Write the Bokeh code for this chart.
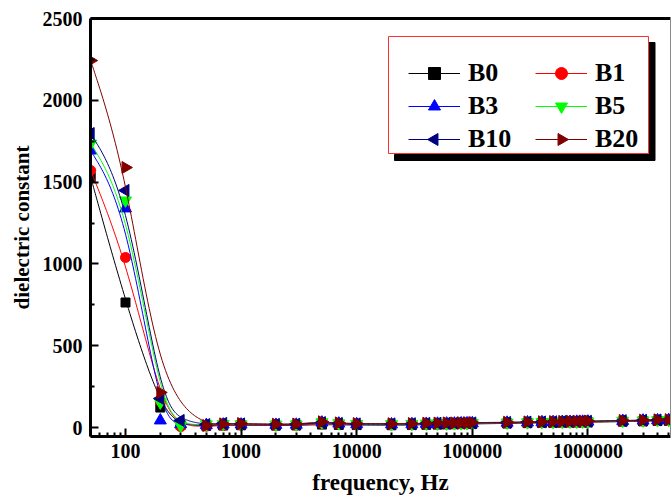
import numpy as np
from bokeh.plotting import figure
from bokeh.models import (Range1d, FixedTicker, PrintfTickFormatter, LinearAxis,
                          Legend, LegendItem)
from bokeh.embed import file_html
from bokeh.resources import INLINE

# ---------------- data ----------------
freq = [50, 100, 200, 300, 500, 700, 1000, 2000, 3000, 5000, 7000, 10000,
        20000, 30000, 40000, 50000, 60000, 70000, 80000, 90000, 100000,
        200000, 300000, 400000, 500000, 600000, 700000, 800000, 900000,
        1000000, 2000000, 3000000, 4000000, 5000000]
freq_b20 = [50, 100, 200, 500, 700, 1000, 2000, 3000, 5000, 7000, 10000,
            20000, 30000, 40000, 50000, 60000, 70000, 80000, 90000, 100000,
            200000, 300000, 400000, 500000, 600000, 700000, 800000, 900000,
            1000000, 2000000, 3000000, 4000000, 5000000]

b0 = [1530, 764, 122, 15, 10, 12, 14, 12, 13, 18, 16, 15, 14, 15, 17, 18, 19,
      20, 21, 21, 22, 25, 27, 28, 29, 30, 31, 31, 32, 32, 36, 38, 40, 41]
b1 = [1571, 1039, 160, 5, 8, 12, 14, 13, 14, 25, 20, 18, 17, 18, 20, 21, 22,
      23, 23, 24, 24, 27, 29, 30, 31, 32, 33, 33, 34, 34, 38, 40, 42, 43]
b3 = [1693, 1339, 43, 20, 15, 18, 18, 16, 17, 30, 24, 20, 19, 20, 22, 23, 24,
      24, 25, 25, 26, 29, 31, 32, 33, 34, 34, 35, 35, 36, 40, 42, 44, 45]
b5 = [1736, 1388, 153, 12, 20, 22, 20, 18, 19, 32, 26, 22, 21, 22, 24, 25, 25,
      26, 26, 27, 27, 30, 32, 33, 34, 35, 36, 36, 37, 37, 41, 43, 45, 46]
b10 = [1797, 1449, 177, 43, 18, 25, 22, 19, 20, 30, 25, 22, 22, 23, 25, 26, 26,
       27, 27, 28, 28, 31, 33, 34, 35, 36, 36, 37, 37, 38, 42, 44, 46, 47]
b20 = [2243, 1589, 214, 12, 22, 24, 20, 21, 35, 28, 24, 23, 24, 26, 27, 28,
       28, 29, 29, 30, 32, 34, 35, 36, 37, 38, 38, 39, 39, 43, 45, 47, 48]

names = ["B0", "B1", "B3", "B5", "B10", "B20"]
x_ticks = [100, 1000, 10000, 100000, 1000000]
y_ticks = [0, 500, 1000, 1500, 2000, 2500]
y_minor = [250, 750, 1250, 1750, 2250]

# ---------------- styles ----------------
styles = {
    "B0": ("#000000", "square", 0.0, 9),
    "B1": ("#ff0000", "circle", 0.0, 10),
    "B3": ("#0000ff", "triangle", 0.0, 12),
    "B5": ("#00ff00", "inverted_triangle", 0.0, 12),
    "B10": ("#000080", "triangle", np.pi / 2, 12),
    "B20": ("#800000", "triangle", -np.pi / 2, 12),
}
series = {"B0": (freq, b0), "B1": (freq, b1), "B3": (freq, b3),
          "B5": (freq, b5), "B10": (freq, b10), "B20": (freq_b20, b20)}

X_START, X_END = 49.8, 5.18e6
Y_START, Y_END = -55, 2500
FR_L, FR_R, FR_T, FR_B = 90, 670, 18, 436   # frame in pixels


def px_x(px):
    a, b = np.log10(X_START), np.log10(X_END)
    return float(10 ** (a + (px - FR_L) / (FR_R - FR_L) * (b - a)))


def px_y(py):
    return float(Y_START + (FR_B - py) / (FR_B - FR_T) * (Y_END - Y_START))


def bspline(xs, ys, n=24):
    """Clamped uniform cubic B-spline in (log10 x, y) space."""
    u = np.log10(np.asarray(xs, float))
    v = np.asarray(ys, float)
    U = np.concatenate([[u[0]] * 2, u, [u[-1]] * 2])
    V = np.concatenate([[v[0]] * 2, v, [v[-1]] * 2])
    t = np.linspace(0, 1, n, endpoint=False)
    b0_ = (1 - t) ** 3 / 6
    b1_ = (3 * t ** 3 - 6 * t ** 2 + 4) / 6
    b2_ = (-3 * t ** 3 + 3 * t ** 2 + 3 * t + 1) / 6
    b3_ = t ** 3 / 6
    cu, cv = [], []
    for i in range(len(U) - 3):
        cu.append(b0_ * U[i] + b1_ * U[i + 1] + b2_ * U[i + 2] + b3_ * U[i + 3])
        cv.append(b0_ * V[i] + b1_ * V[i + 1] + b2_ * V[i + 2] + b3_ * V[i + 3])
    cu.append([U[-1]])
    cv.append([V[-1]])
    return 10 ** np.concatenate(cu), np.concatenate(cv)


FONT = "Liberation Serif"

p = figure(width=672, height=499, x_axis_type="log",
           x_range=Range1d(X_START, X_END), y_range=Range1d(Y_START, Y_END),
           output_backend="svg", toolbar_location=None,
           min_border_left=FR_L, min_border_right=672 - FR_R,
           min_border_top=FR_T, min_border_bottom=499 - FR_B)
p.grid.visible = False
p.outline_line_color = None
p.background_fill_color = "white"
p.border_fill_color = "white"

xa = p.xaxis[0]
ya = p.yaxis[0]
xa.ticker = FixedTicker(ticks=x_ticks,
                        minor_ticks=[m * 10 ** k for k in range(1, 7) for m in range(2, 10)])
xa.formatter = PrintfTickFormatter(format="%d")
ya.ticker = FixedTicker(ticks=y_ticks, minor_ticks=y_minor)
xa.axis_label = "frequency, Hz"
ya.axis_label = "dielectric constant"
for ax in (xa, ya):
    ax.axis_line_width = 3
    ax.axis_line_color = "black"
    ax.major_tick_in = 8
    ax.major_tick_out = 0
    ax.minor_tick_in = 4
    ax.minor_tick_out = 0
    ax.major_tick_line_width = 2
    ax.minor_tick_line_width = 2
    ax.major_label_text_font = FONT
    ax.major_label_text_font_style = "bold"
    ax.major_label_text_font_size = "20px"
    ax.major_label_text_color = "black"
    ax.axis_label_text_font = FONT
    ax.axis_label_text_font_style = "bold"
    ax.axis_label_text_color = "black"
xa.axis_label_text_font_size = "23px"
ya.axis_label_text_font_size = "21px"
xa.major_label_standoff = 7
xa.axis_label_standoff = 9
ya.major_label_standoff = 8
ya.axis_label_standoff = 6

top_ax = LinearAxis(ticker=FixedTicker(ticks=[]), axis_line_width=3,
                    axis_line_color="black", major_tick_line_color=None,
                    minor_tick_line_color=None, major_label_text_font_size="0px")
p.add_layout(top_ax, "above")
right_ax = LinearAxis(ticker=FixedTicker(ticks=[]), axis_line_width=1,
                      axis_line_color="#8a8a8a", major_tick_line_color=None,
                      minor_tick_line_color=None, major_label_text_font_size="0px")
p.add_layout(right_ax, "right")

# legend frame: black drop shadow (screen-sized rectangles) and white box
p.rect(x=[px_x(651.5), px_x(524)], y=[px_y(101), px_y(157)],
       width=[6, 260], height=[118, 6], width_units="screen",
       height_units="screen", fill_color="black", line_color="black")
p.quad(left=[px_x(388)], right=[px_x(648)], top=[px_y(36)], bottom=[px_y(153)],
       fill_color="white", line_color="#ff3030", line_width=1)

items = {}
for name in names:
    xs, ys = series[name]
    color, marker, angle, size = styles[name]
    cx, cy = bspline(xs, ys)
    lr = p.line(cx, cy, line_color=color, line_width=1)
    sr = p.scatter(xs, ys, marker=marker, angle=angle, size=size,
                   fill_color=color, line_color=color)
    if angle == 0.0:
        items[name] = LegendItem(label=name, renderers=[lr, sr])
    else:
        items[name] = LegendItem(label=name, renderers=[lr])

# rotated legend markers (legend glyphs cannot be rotated)
for name, gx, gy in (("B10", 434, 139), ("B20", 561, 139)):
    color, marker, angle, size = styles[name]
    p.scatter([px_x(gx)], [px_y(gy)], marker=marker, angle=angle, size=12,
              fill_color=color, line_color=color)


def col_legend(loc, keys):
    return Legend(items=[items[k] for k in keys], location=loc, padding=0,
                  margin=0, spacing=3, glyph_width=52, glyph_height=30,
                  label_height=30, label_standoff=8, label_width=40,
                  label_text_font=FONT, label_text_font_style="bold",
                  label_text_font_size="26px", label_text_color="black",
                  background_fill_alpha=0, border_line_color=None)


p.add_layout(col_legend((318, 282), ["B0", "B3", "B10"]))
p.add_layout(col_legend((445, 282), ["B1", "B5", "B20"]))

open("out.html", "w").write(file_html(p, INLINE))
